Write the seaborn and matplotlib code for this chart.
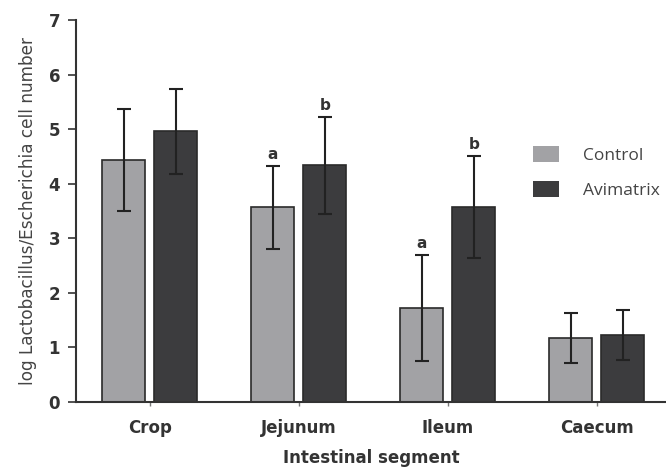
import numpy as np
import pandas as pd
import matplotlib
matplotlib.use("Agg")
import matplotlib.pyplot as plt
import seaborn as sns


# Values
segments = ["Crop", "Jejunum", "Ileum", "Caecum"]
groups = ["Control", "Avimatrix"]
control_mean = [4.43, 3.57, 1.72, 1.17]
control_err = [0.93, 0.76, 0.97, 0.46]
avimatrix_mean = [4.96, 4.34, 3.57, 1.23]
avimatrix_err = [0.78, 0.89, 0.94, 0.46]
control_letters = ["", "a", "a", ""]
avimatrix_letters = ["", "b", "b", ""]

df = pd.DataFrame({
    "Segment": segments * 2,
    "Group": [groups[0]] * 4 + [groups[1]] * 4,
    "Value": control_mean + avimatrix_mean,
})
errs = [control_err, avimatrix_err]
letters = [control_letters, avimatrix_letters]

sns.set_style("ticks")
plt.rcParams['font.family'] = ['DejaVu Sans']

fig = plt.figure(figsize=(6.66, 4.7), dpi=100)
ax = fig.add_axes([76 / 666, 1 - 402 / 470, 1 - 76 / 666, (402 - 20) / 470])

palette = {"Control": "#a2a2a5", "Avimatrix": "#3c3c3e"}
sns.barplot(data=df, x="Segment", y="Value", hue="Group", order=segments,
            hue_order=groups, palette=palette, width=0.7, gap=0.17,
            errorbar=None, edgecolor="#2a2a2a", linewidth=1.2, saturation=1,
            ax=ax)

# Error bars and significance letters placed on the drawn bars
bar_groups = list(ax.containers)
for i, cont in enumerate(bar_groups):
    for j, bar in enumerate(cont):
        cx = bar.get_x() + bar.get_width() / 2
        top = bar.get_height()
        ax.errorbar(cx, top, yerr=errs[i][j], color="#222222", elinewidth=1.5,
                    capsize=5.2, capthick=1.5, zorder=4)
        if letters[i][j]:
            ax.text(cx, top + errs[i][j] + 0.07, letters[i][j], ha="center",
                    va="bottom", fontsize=11, fontweight="bold", color="#333333")

ax.set_xlim(-0.495, 3.465)
ax.set_ylim(0, 7)
ax.set_yticks(range(0, 8))
sns.despine(ax=ax)
for s in ["left", "bottom"]:
    ax.spines[s].set_linewidth(1.5)
    ax.spines[s].set_color("#333333")

ax.tick_params(axis="y", length=5.5, width=1.2, color="#333333", pad=6,
               labelsize=12, labelcolor="#333333")
ax.tick_params(axis="x", length=3, width=1, color="#777777", pad=9,
               labelsize=12, labelcolor="#333333")
for lbl in ax.get_xticklabels() + ax.get_yticklabels():
    lbl.set_fontweight("bold")

ax.set_xlabel("Intestinal segment", fontsize=12, fontweight="bold",
              color="#333333", labelpad=9)
ax.set_ylabel("log Lactobacillus/Escherichia cell number", fontsize=12.2,
              color="#444444", labelpad=8)

handles, labels = ax.get_legend_handles_labels()
for h in handles:
    h.set_edgecolor("none")
leg = ax.legend(handles, labels, loc="upper left",
                bbox_to_anchor=(533 / 666, 1 - 146 / 470),
                bbox_transform=fig.transFigure, frameon=False,
                borderpad=0, borderaxespad=0, handlelength=1.5,
                handleheight=1.05, handletextpad=1.4, labelspacing=1.0,
                prop={"family": "Open Sans", "size": 12.5})
for t in leg.get_texts():
    t.set_color("#444444")

fig.savefig("out.png", dpi=100, facecolor="white")
